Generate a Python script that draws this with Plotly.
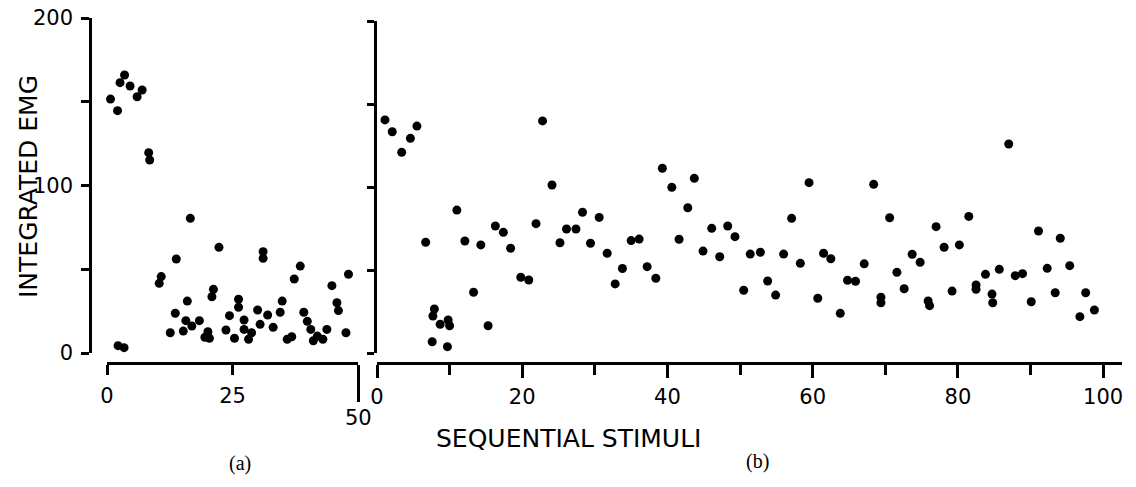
import plotly.graph_objects as go

W, H = 1136, 487

# (a) integrated EMG over the first 50 sequential stimuli
a_stim = [0.7, 2.1, 2.6, 3.5, 4.6, 6.0, 7.0, 8.3, 8.5, 2.2, 3.4,
          10.4, 10.8, 12.6, 13.6, 13.8, 15.2, 15.7, 16.0, 16.6, 16.9,
          18.4, 19.5, 20.1, 20.4, 20.9, 21.2, 22.3, 23.7, 24.4, 25.4,
          26.2, 26.2, 27.3, 27.3, 28.2, 28.8, 30.0, 30.5, 31.1, 31.1,
          32.0, 33.1, 34.5, 34.9, 35.9, 36.8, 37.3, 38.5, 39.2, 39.9,
          40.6, 41.1, 41.9, 43.0, 43.8, 44.8, 45.8, 46.1, 47.6, 48.1]
a_emg = [151.6, 144.7, 161.4, 166.0, 159.4, 153.0, 157.0, 119.6, 115.2, 4.4, 3.2,
         41.6, 45.6, 12.1, 23.7, 56.1, 13.1, 19.3, 31.0, 80.4, 16.1,
         19.3, 9.4, 12.7, 8.8, 33.6, 38.0, 63.1, 13.7, 22.3, 8.8,
         32.1, 27.3, 19.7, 14.1, 8.2, 12.1, 25.7, 17.1, 60.5, 56.5,
         22.7, 15.3, 24.3, 31.0, 8.2, 9.7, 44.2, 51.9, 24.3, 18.9,
         14.1, 7.3, 10.1, 8.2, 14.1, 40.2, 30.0, 25.3, 12.1, 47.0]

# (b) integrated EMG over 100 sequential stimuli
b_stim = [1.1, 2.1, 3.4, 4.6, 5.5, 6.7, 7.9, 7.7, 8.7, 7.6, 9.8, 10.0, 9.7,
          11.0, 12.1, 13.3, 14.3, 15.3, 16.3, 17.4, 18.4, 19.8, 20.9,
          21.9, 22.8, 24.1, 25.2, 26.1, 27.4, 28.3, 29.4, 30.6, 31.7,
          32.8, 33.8, 35.0, 36.1, 37.2, 38.4, 39.3, 40.6, 41.6, 42.8,
          43.7, 44.9, 46.1, 47.2, 48.3, 49.3, 50.5, 51.4, 52.8, 53.8,
          54.9, 56.0, 57.1, 58.3, 59.5, 60.7, 61.5, 62.5, 63.8, 64.8,
          65.9, 67.1, 68.4, 69.4, 69.4, 70.6, 71.6, 72.6, 73.7, 74.8,
          75.9, 76.1, 77.0, 78.1, 79.2, 80.2, 81.5, 82.5, 82.5, 83.8,
          84.7, 84.8, 85.7, 87.0, 87.9, 88.9, 90.1, 91.1, 92.3, 93.4,
          94.1, 95.4, 96.8, 97.6, 98.8]
b_emg = [140.4, 133.3, 120.9, 129.3, 136.7, 66.7, 26.5, 22.3, 17.3, 6.8, 19.9, 16.4, 3.8,
         86.1, 67.5, 36.6, 65.1, 16.4, 76.5, 72.7, 63.1, 45.6, 44.0,
         77.9, 139.8, 101.2, 66.4, 74.7, 74.7, 84.8, 66.1, 81.7, 60.1,
         41.6, 50.9, 67.7, 68.6, 52.0, 45.0, 111.3, 99.8, 68.5, 87.5,
         105.2, 61.4, 75.1, 58.0, 76.5, 70.1, 37.8, 59.6, 60.7, 43.4,
         34.9, 59.6, 81.1, 54.0, 102.6, 33.0, 60.1, 56.8, 23.9, 43.8,
         43.2, 53.7, 101.6, 33.6, 30.3, 81.5, 48.6, 38.7, 59.5, 54.6,
         31.3, 28.5, 76.1, 63.7, 37.3, 65.1, 82.3, 41.0, 38.4, 47.4,
         35.5, 30.3, 50.4, 125.9, 46.6, 47.8, 30.9, 73.5, 51.0, 36.3,
         69.1, 52.6, 21.9, 36.3, 25.9]

a_xticks = [0, 25]
b_xticks = [0, 20, 40, 60, 80, 100]
b_xminor = [10, 30, 50, 70, 90]
emg_ticks = [0, 50, 100, 150, 200]

INK = "black"
SANS = "DejaVu Sans"
LW = 2.6

marker = dict(color=INK, size=9, line=dict(width=0))

fig = go.Figure()
fig.add_trace(go.Scatter(x=a_stim, y=a_emg, mode="markers", marker=marker,
                         xaxis="x", yaxis="y", cliponaxis=False, showlegend=False))
fig.add_trace(go.Scatter(x=b_stim, y=b_emg, mode="markers", marker=marker,
                         xaxis="x2", yaxis="y2", cliponaxis=False, showlegend=False))

base = dict(showline=True, linecolor=INK, linewidth=LW, showgrid=False,
            zeroline=False, ticks="outside", tickcolor=INK, tickwidth=LW,
            tickfont=dict(family=SANS, size=21, color=INK), anchor="free",
            automargin=False)

x_pos = 1 - 363 / H
fig.update_layout(
    template="none",
    width=W, height=H, autosize=False, showlegend=False,
    margin=dict(l=0, r=0, t=0, b=0, pad=0, autoexpand=False),
    paper_bgcolor="white", plot_bgcolor="white",
    xaxis=dict(base, domain=[107 / W, 358 / W], range=[0, 50], position=x_pos,
               tickvals=a_xticks, ticklen=10, ticklabelstandoff=3,
               minor=dict(tickvals=[50], ticks="outside", ticklen=37,
                          tickwidth=LW, tickcolor=INK)),
    yaxis=dict(base, domain=[1 - 353 / H, 1 - 18 / H], range=[0, 200],
               position=90 / W, tickvals=emg_ticks[::2], ticklen=8,
               ticklabelstandoff=4,
               minor=dict(tickvals=emg_ticks[1::2], ticks="outside", ticklen=8,
                          tickwidth=LW, tickcolor=INK)),
    xaxis2=dict(base, domain=[377 / W, 1122 / W], range=[0, 102.6],
                position=x_pos, tickvals=b_xticks, ticklen=13,
                ticklabelstandoff=1,
                minor=dict(tickvals=b_xminor, ticks="outside", ticklen=10,
                           tickwidth=LW, tickcolor=INK)),
    yaxis2=dict(base, domain=[1 - 353 / H, 1 - 21 / H], range=[0, 200],
                position=375 / W, tickvals=emg_ticks, ticklen=7,
                showticklabels=False),
)

text = dict(showarrow=False, xanchor="center", yanchor="middle",
            font=dict(family=SANS, size=25, color=INK))
fig.add_annotation(text="INTEGRATED EMG", xref="paper", yref="paper",
                   x=28 / W, y=1 - 187 / H, textangle=-90, **text)
fig.add_annotation(text="SEQUENTIAL STIMULI", xref="paper", yref="paper",
                   x=568 / W, y=1 - 438 / H, **text)
fig.add_annotation(text="50", xref="x", yref="paper", x=50, y=1 - 418 / H,
                   showarrow=False, xanchor="center", yanchor="middle",
                   font=dict(family=SANS, size=21, color=INK))
serif = dict(family="Liberation Serif", size=20, color=INK)
fig.add_annotation(text="(a)", xref="paper", yref="paper", x=227 / W,
                   y=1 - 477 / H, showarrow=False, font=serif)
fig.add_annotation(text="(b)", xref="paper", yref="paper", x=771 / W,
                   y=1 - 475 / H, showarrow=False, font=serif)

fig.write_html("out.html")
